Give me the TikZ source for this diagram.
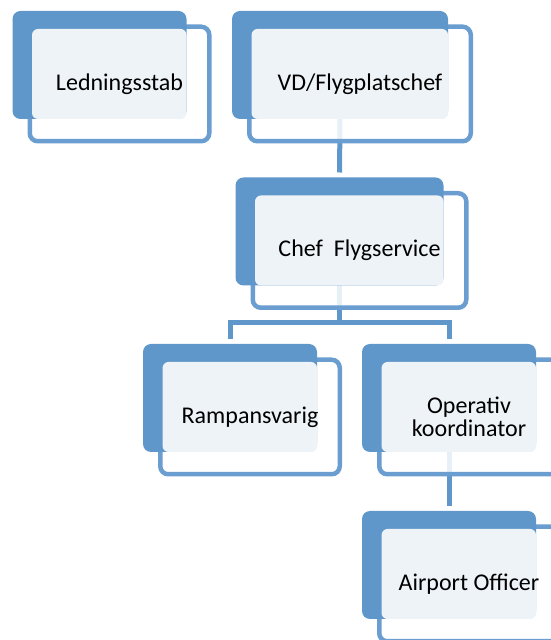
\documentclass[tikz,border=0pt]{standalone}
\usepackage{fontspec}
\setmainfont{Carlito}
\usetikzlibrary{positioning, backgrounds}
\definecolor{smartblue}{HTML}{6097CA}
\definecolor{smartline}{HTML}{6A9DD0}
\definecolor{smartfill}{HTML}{EEF3F8}
\tikzstyle{frontbox} = [
    rectangle,
    rounded corners=8pt,
    minimum width=179.5pt,
    minimum height=114.5pt,
    inner sep=0pt,
    outer sep=0pt,
    draw=smartline,
    line width=4.5pt,
    fill=white,
    fill opacity=0.85
]
\tikzstyle{backbox} = [
    rectangle,
    rounded corners=8pt,
    minimum width=174pt,
    minimum height=108pt,
    inner sep=0pt,
    outer sep=0pt,
    fill=smartblue
]
\tikzstyle{textfill} = [fill=smartfill, rounded corners=6pt]
\tikzstyle{boxtext} = [align=center, text=black, font=\fontsize{24}{23}\selectfont]
\tikzstyle{link} = [draw=smartblue, line width=5pt, shorten >=5pt]

\begin{document}
\begin{tikzpicture}[x=1pt, y=1pt]
\useasboundingbox (0,0) rectangle (551,640);
\clip (0,0) rectangle (551,640);

% Ledningsstab
\node (led) [frontbox] at (119.5,556) {};
\node (ledback) [backbox] at ([shift={(-20,19)}]led.center) {};
\fill [textfill] ([shift={(2.25,-2.25)}]led.north west) rectangle (ledback.south east);
\node (ledtext) [boxtext] at (led.center) {Ledningsstab};

% VD/Flygplatschef
\node (vd) [frontbox, minimum width=221.5pt] at (360,556) {};
\node (vdback) [backbox, minimum width=216pt] at ([shift={(-20,19)}]vd.center) {};
\fill [textfill] ([shift={(2.25,-2.25)}]vd.north west) rectangle (vdback.south east);
\node (vdtext) [boxtext] at (vd.center) {VD/Flygplatschef};

% Chef Flygservice
\node (chef) [frontbox, minimum width=213.5pt] at (359.5,389.5) {};
\node (chefback) [backbox, minimum width=208pt] at ([shift={(-20,19)}]chef.center) {};
\fill [textfill] ([shift={(2.25,-2.25)}]chef.north west) rectangle (chefback.south east);
\node (cheftext) [boxtext] at (chef.center) {Chef~~Flygservice};

% Rampansvarig
\node (ramp) [frontbox] at (250,223) {};
\node (rampback) [backbox] at ([shift={(-20,19)}]ramp.center) {};
\fill [textfill] ([shift={(2.25,-2.25)}]ramp.north west) rectangle (rampback.south east);
\node (ramptext) [boxtext] at (ramp.center) {Rampansvarig};

% Operativ koordinator
\node (op) [frontbox] at (469,223) {};
\node (opback) [backbox] at ([shift={(-20,19)}]op.center) {};
\fill [textfill] ([shift={(2.25,-2.25)}]op.north west) rectangle (opback.south east);
\node (optext) [boxtext] at (op.center) {Operativ\\koordinator};

% Airport Officer
\node (air) [frontbox] at (469,56) {};
\node (airback) [backbox] at ([shift={(-20,19)}]air.center) {};
\fill [textfill] ([shift={(2.25,-2.25)}]air.north west) rectangle (airback.south east);
\node (airtext) [boxtext] at (air.center) {Airport Officer};

% connectors under the boxes
\begin{pgfonlayer}{background}
\coordinate (bus) at ([yshift=21pt]rampback.north -| chefback.south);
\draw [link] (vdback.south) -- (chefback.north);
\draw [link, shorten >=0pt] (chefback.south) -- (bus);
\draw [link, shorten <=5pt] (rampback.north) |- (bus) -| (opback.north);
\draw [link] (opback.south) -- (airback.north);
\end{pgfonlayer}

\end{tikzpicture}
\end{document}
